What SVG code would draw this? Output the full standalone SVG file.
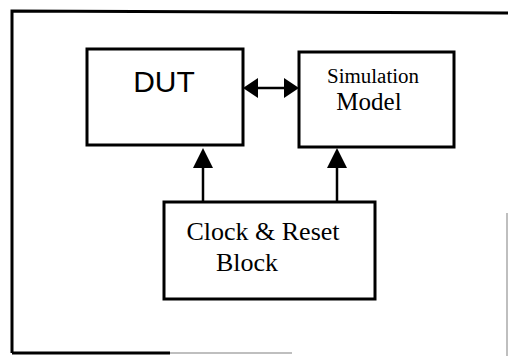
<svg xmlns="http://www.w3.org/2000/svg" width="508" height="356" viewBox="0 0 508 356">
<style>
.box{fill:#fff;stroke:#000;stroke-width:3}
.frame{fill:none;stroke:#000;stroke-width:3}
.faint{fill:none;stroke:#aaa;stroke-width:1.5}
.conn{stroke:#000;stroke-width:2.5;fill:none}
.head{fill:#000}
.sans{font-family:"Liberation Sans",Arial,sans-serif;fill:#000}
.serif{font-family:"Liberation Serif","Times New Roman",serif;fill:#000}
</style>
<rect width="508" height="356" fill="#fff"/>
<g id="frame">
<path class="frame" d="M12,353 L12,11 L508,13"/>
<path class="frame" d="M12,353 L170,353"/>
<path class="faint" d="M170,353 L292,353 M507,213 L507,356"/>
</g>
<g id="connectors">
<line class="conn" x1="254" y1="88" x2="286" y2="88"/>
<polygon class="head" points="243,88 258,78 258,98"/>
<polygon class="head" points="299,88 284,78 284,98"/>
<line class="conn" x1="203" y1="165" x2="203" y2="202"/>
<polygon class="head" points="203,148 193,168 213,168"/>
<line class="conn" x1="337" y1="165" x2="337" y2="204"/>
<polygon class="head" points="337,148 327,168 347,168"/>
</g>
<g id="dut">
<rect class="box" x="87" y="49" width="156" height="96"/>
<text class="sans" x="164" y="92" font-size="30" text-anchor="middle">DUT</text>
</g>
<g id="sim">
<rect class="box" x="299" y="52" width="155" height="95"/>
<text class="serif" x="373" y="83" font-size="20" text-anchor="middle" textLength="92" lengthAdjust="spacingAndGlyphs">Simulation</text>
<text class="serif" x="369" y="110" font-size="25" text-anchor="middle">Model</text>
</g>
<g id="clock">
<rect class="box" x="164" y="202" width="211" height="97"/>
<text class="serif" x="263" y="240" font-size="26" text-anchor="middle">Clock &amp; Reset</text>
<text class="serif" x="247" y="271" font-size="26" text-anchor="middle">Block</text>
</g>
</svg>
